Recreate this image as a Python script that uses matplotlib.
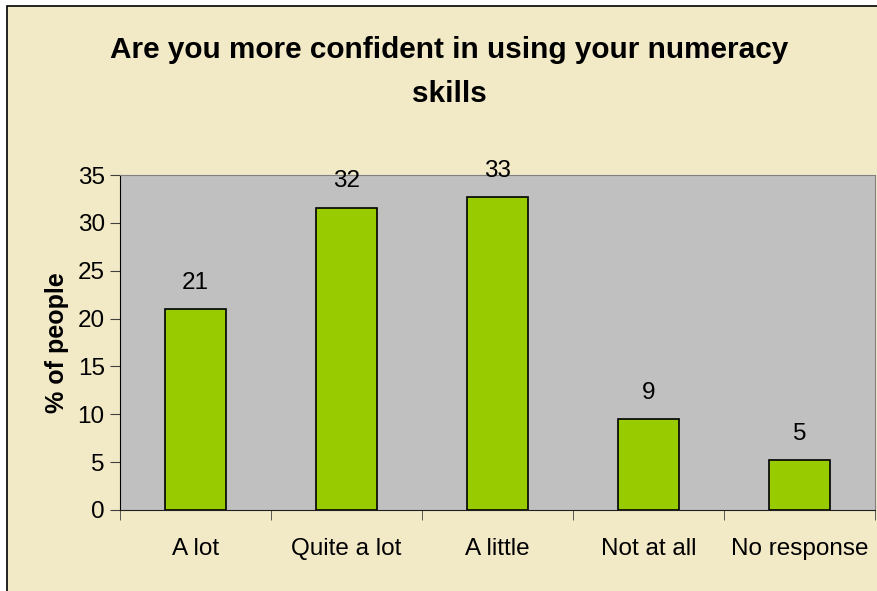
import numpy as np
import matplotlib.pyplot as plt
from matplotlib.patches import Rectangle

categories = ['A lot', 'Quite a lot', 'A little', 'Not at all', 'No response']
values = [21.0, 31.6, 32.7, 9.5, 5.2]
labels = ['21', '32', '33', '9', '5']

plt.rcParams['font.family'] = ['Liberation Sans', 'DejaVu Sans']

fig = plt.figure(figsize=(8.77, 5.91), dpi=100)
fig.patch.set_facecolor('white')
# chart area border (cropped on right and bottom in the original)
fig.patches.append(Rectangle((7 / 877, -0.05), 1.05, (591 - 6) / 591 + 0.05,
                             transform=fig.transFigure, facecolor='#F2E9C7',
                             edgecolor='black', linewidth=1.2, zorder=-10))

ax = fig.add_axes([120 / 877, 81 / 591, 755 / 877, 335 / 591])
ax.set_zorder(1)
ax.set_facecolor('#C0C0C0')
x = np.arange(len(categories))
ax.bar(x, values, width=0.4, color='#99CC00', edgecolor='black', linewidth=1.2, zorder=3)

for xi, v, lab in zip(x, values, labels):
    ax.annotate(lab, (xi, v), xytext=(0, 11), textcoords='offset points',
                ha='center', va='bottom', fontsize=17.5)

ax.set_xlim(-0.5, len(categories) - 0.5)
ax.set_ylim(0, 35)
ax.set_yticks(range(0, 36, 5))
ax.set_xticks(x)
ax.set_xticklabels(categories)
ax.set_xticks(np.arange(-0.5, len(categories), 1), minor=True)
ax.tick_params(axis='x', which='major', length=0, pad=20, labelsize=17.5)
ax.tick_params(axis='x', which='minor', length=7, direction='out', color='#404040')
ax.tick_params(axis='y', length=7, direction='out', labelsize=17.5, pad=4, color='#404040')

for side in ['top', 'right']:
    ax.spines[side].set_color('#808080')
ax.spines['left'].set_color('black')
ax.spines['bottom'].set_color('#202020')

ax.set_ylabel('% of people', fontsize=18, fontweight='bold', labelpad=6)
fig.text(449 / 877, 1 - 72 / 591, 'Are you more confident in using your numeracy\nskills',
         ha='center', va='center', fontsize=21.4, fontweight='bold', linespacing=1.75)

fig.savefig('out.png', dpi=100)
